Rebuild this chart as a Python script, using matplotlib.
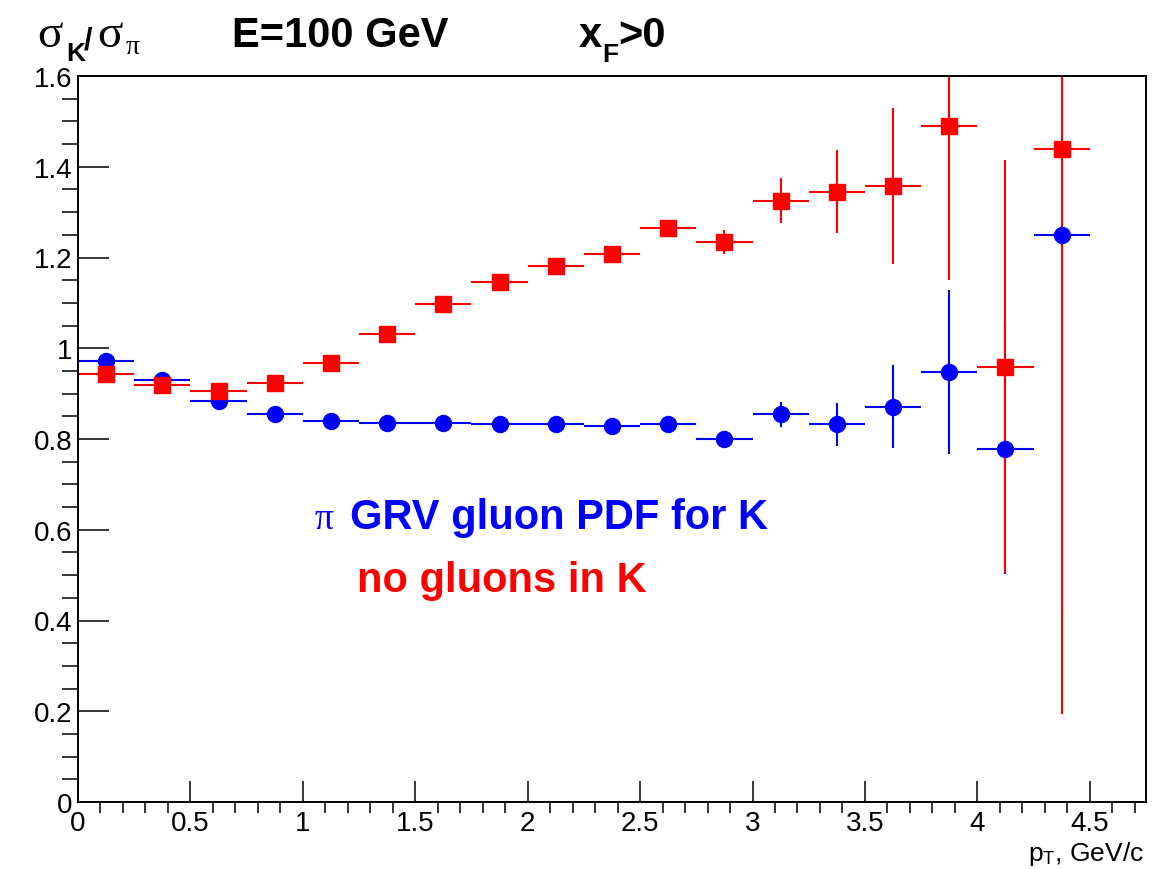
"""sigma_K / sigma_pi ratio vs pT at E=100 GeV, xF>0 (ROOT-style reproduction)."""
import matplotlib
matplotlib.use("Agg")
import matplotlib.pyplot as plt
from matplotlib.ticker import MultipleLocator, FuncFormatter

plt.rcParams["font.family"] = ["Liberation Sans", "DejaVu Sans"]
plt.rcParams["mathtext.fontset"] = "custom"
plt.rcParams["mathtext.rm"] = "Liberation Sans"
plt.rcParams["mathtext.sf"] = "Liberation Sans"
plt.rcParams["mathtext.it"] = "Liberation Serif"
plt.rcParams["mathtext.bf"] = "Liberation Sans:bold"

# bin centres (GeV/c), bin half width 0.125
pt = [0.125, 0.375, 0.625, 0.875, 1.125, 1.375, 1.625, 1.875, 2.125,
      2.375, 2.625, 2.875, 3.125, 3.375, 3.625, 3.875, 4.125, 4.375]
pt_halfwidth = 0.125

# pi GRV gluon PDF for K (blue circles)
ratio_grv = [0.972, 0.930, 0.883, 0.855, 0.840, 0.835, 0.835, 0.832, 0.832,
             0.829, 0.832, 0.800, 0.854, 0.832, 0.871, 0.947, 0.778, 1.250]
err_grv = [0.005, 0.005, 0.005, 0.005, 0.005, 0.005, 0.005, 0.005, 0.005,
           0.006, 0.008, 0.010, 0.027, 0.048, 0.091, 0.181, 0.276, 0.836]

# no gluons in K (red squares)
ratio_nog = [0.943, 0.920, 0.906, 0.923, 0.967, 1.031, 1.098, 1.145, 1.182,
             1.208, 1.266, 1.234, 1.325, 1.345, 1.358, 1.490, 0.959, 1.439]
err_nog = [0.005, 0.005, 0.005, 0.006, 0.007, 0.008, 0.009, 0.010, 0.012,
           0.014, 0.016, 0.026, 0.050, 0.092, 0.172, 0.339, 0.455, 1.245]

W, H = 1173, 870


def fx(px):
    return px / W


def fy(py):
    return 1 - py / H


fig = plt.figure(figsize=(W / 100, H / 100), dpi=100)
ax = fig.add_axes([fx(78), fy(803), (1146 - 78) / W, (803 - 77) / H])

ax.errorbar(pt, ratio_grv, yerr=err_grv, xerr=pt_halfwidth, fmt="o",
            color="#0000ff", ms=11.5, elinewidth=1.5, capsize=0)
ax.errorbar(pt, ratio_nog, yerr=err_nog, xerr=pt_halfwidth, fmt="s",
            color="#ff0000", ms=11.5, elinewidth=1.5, capsize=0)

ax.set_xlim(0, 4.75)
ax.set_ylim(0, 1.6)
ax.xaxis.set_major_locator(MultipleLocator(0.5))
ax.xaxis.set_minor_locator(MultipleLocator(0.1))
ax.yaxis.set_major_locator(MultipleLocator(0.2))
ax.yaxis.set_minor_locator(MultipleLocator(0.05))
fmt = FuncFormatter(lambda v, p: "%g" % round(v, 3))
ax.xaxis.set_major_formatter(fmt)
ax.yaxis.set_major_formatter(fmt)

for s in ax.spines.values():
    s.set_linewidth(1.4)
ax.tick_params(direction="in", top=False, right=False, width=1.1,
               labelsize=20, colors="black")
ax.tick_params(axis="y", which="major", length=22, pad=4)
ax.tick_params(axis="y", which="minor", length=11.5, width=1.1)
ax.tick_params(axis="x", which="major", length=15, pad=6)
ax.tick_params(axis="x", which="minor", length=8, width=1.1)

# axis title
fig.text(fx(1144), fy(861), r"p$_{\mathsf{T}}$, GeV/c", fontsize=19,
         ha="right", va="baseline")

# top title pieces
serif = "Liberation Serif"
fig.text(fx(37), fy(47), "\u03c3", family=serif, fontsize=34, va="baseline")
fig.text(fx(66), fy(61), "K", fontsize=19, fontweight="bold", va="baseline")
fig.text(fx(84), fy(49), "/", fontsize=22, fontweight="bold", va="baseline")
fig.text(fx(97), fy(47), "\u03c3", family=serif, fontsize=34, va="baseline")
fig.text(fx(126), fy(54), "\u03c0", family=serif, fontsize=20, va="baseline")

fig.text(fx(232), fy(47), "E=100 GeV", fontsize=30, fontweight="bold",
         va="baseline")
fig.text(fx(579), fy(47), "x", fontsize=30, fontweight="bold", va="baseline")
fig.text(fx(602), fy(62), "F", fontsize=19, fontweight="bold", va="baseline")
fig.text(fx(618), fy(47), ">0", fontsize=30, fontweight="bold", va="baseline")

# annotations inside the frame
ax.text(1.05, 0.604, "\u03c0", family=serif, fontsize=27, color="#0000ff",
        va="baseline")
ax.text(1.21, 0.604, "GRV gluon PDF for K", fontsize=30, fontweight="bold",
        color="#0000ff", va="baseline")
ax.text(1.24, 0.465, "no gluons in K", fontsize=30, fontweight="bold",
        color="#ff0000", va="baseline")

fig.savefig("out.png", dpi=100)
